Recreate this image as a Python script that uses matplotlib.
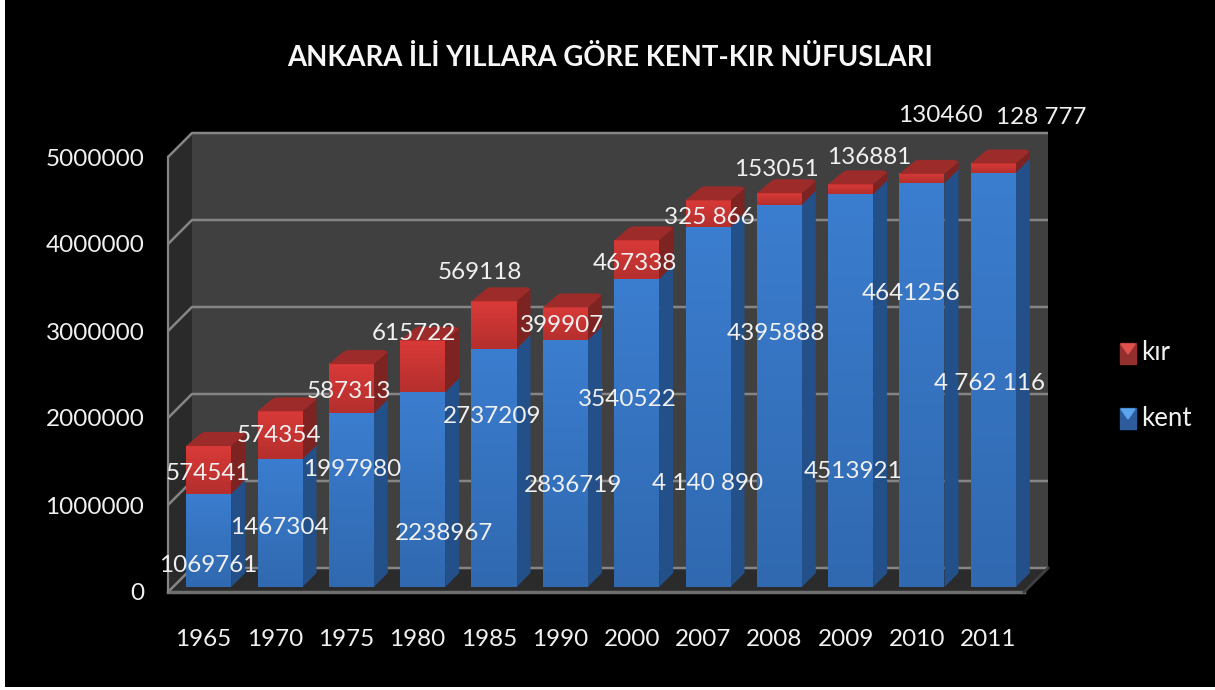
import numpy as np
import matplotlib
matplotlib.use("Agg")
import matplotlib.pyplot as plt
from matplotlib.patches import Polygon, Rectangle
from matplotlib.colors import LinearSegmentedColormap

years = ["1965", "1970", "1975", "1980", "1985", "1990", "2000", "2007", "2008", "2009", "2010", "2011"]
kent = [1069761, 1467304, 1997980, 2238967, 2737209, 2836719, 3540522, 4140890, 4395888, 4513921, 4641256, 4762116]
kir = [574541, 574354, 587313, 615722, 569118, 399907, 467338, 325866, 153051, 136881, 130460, 128777]
kent_labels = ["1069761", "1467304", "1997980", "2238967", "2737209", "2836719", "3540522", "4 140 890", "4395888", "4513921", "4641256", "4 762 116"]
kir_labels = ["574541", "574354", "587313", "615722", "569118", "399907", "467338", "325 866", "153051", "136881", "130460", "128 777"]
y_ticks = [0, 1000000, 2000000, 3000000, 4000000, 5000000]
title = "ANKARA İLİ YILLARA GÖRE KENT-KIR NÜFUSLARI"

# label centres in pixels (x, y from the top of the image)
kent_label_pos = [(208, 566), (279, 527), (352, 470), (444, 533), (492, 417), (573, 486), (627, 399), (708, 484), (776, 333), (853, 471), (911, 293), (989, 383)]
kir_label_pos = [(208, 473), (279, 436), (349, 392), (414, 334), (480, 273), (562, 326), (635, 263), (709, 217), (776, 170), (869, 157), (940, 116), (1041, 118)]

W, H = 1215, 690
plt.rcParams["font.family"] = ["Lato", "DejaVu Sans"]

fig = plt.figure(figsize=(W / 100, H / 100), dpi=100, facecolor="white")
bg = fig.add_axes([5 / W, 3 / H, 1 - 5 / W, 1 - 3 / H])
bg.set_axis_off()
bg.add_patch(Rectangle((0, 0), 1, 1, color="black", transform=bg.transAxes))

L, R, B, T = 168, 1024, 592, 157
ax = fig.add_axes([L / W, 1 - B / H, (R - L) / W, (B - T) / H])
ax.set_facecolor("none")
ax.set_xlim(0, 12)
ax.set_ylim(0, 5000000)
for s in ax.spines.values():
    s.set_visible(False)

ux = 12 / (R - L)      # data units per pixel
uy = 5000000 / (B - T)


def depth(x, y, d):
    return x + d * ux, y + d * uy


def poly(pts, color, z):
    ax.add_patch(Polygon(pts, closed=True, facecolor=color, edgecolor="none", zorder=z, clip_on=False))


# walls and floor
D = 24
p = lambda x, y, d=0: depth(x, y, d)
poly([p(0, 0), p(0, 5000000), p(0, 5000000, D), p(0, 0, D)], "#2a2a2a", 1)
poly([p(0, 0, D), p(0, 5000000, D), p(12, 5000000, D), p(12, 0, D)], "#404040", 1)
poly([p(0, 0), p(12, 0), p(12, 0, D), p(0, 0, D)], "#2b2b2b", 1)
grid = "#858585"
for v in y_ticks:
    xs = [p(0, v)[0], p(0, v, D)[0], p(12, v, D)[0]]
    ys = [p(0, v)[1], p(0, v, D)[1], p(12, v, D)[1]]
    ax.plot(xs, ys, color=grid, lw=1.8, zorder=2, clip_on=False, solid_capstyle="butt")
ax.plot([p(0, 0)[0], p(12, 0)[0]], [0, 0], color="#6e6e6e", lw=2.5, zorder=2, clip_on=False)
ax.plot([p(12, 0)[0], p(12, 0, D)[0]], [0, p(12, 0, D)[1]], color="#404040", lw=2, zorder=2, clip_on=False)
ax.plot([p(0, 0)[0], p(0, 5000000)[0]], [0, 5000000], color=grid, lw=1.6, zorder=2, clip_on=False)

# stacked bars
bw = 45 * ux
d0, d1 = 5, 19


def gradient(x0, x1, y0, y1, top, bottom, z):
    cm = LinearSegmentedColormap.from_list("g", [bottom, top])
    ax.imshow(np.linspace(0, 1, 64)[:, None], extent=(x0, x1, y0, y1), origin="lower",
              cmap=cm, aspect="auto", zorder=z, interpolation="bilinear", clip_on=False)


def segment(x, y0, y1, top, bottom, side, cap, z, with_cap):
    bevel = 2 if with_cap else 0
    fx0, fy0 = depth(x - bw / 2, y0, d0)
    fx1, fy1 = depth(x + bw / 2, y1, d0)
    fy1 -= bevel * uy
    off = d1 - d0
    poly([(fx1, fy0), (fx1, fy1), (fx1 + off * ux, fy1 + off * uy), (fx1 + off * ux, fy0 + off * uy)], side, z)
    gradient(fx0, fx1, fy0, fy1, top, bottom, z + 0.1)
    if with_cap:
        r = 4
        poly([(fx0, fy1), (fx1, fy1), (fx1 + off * ux, fy1 + (off - 2) * uy), (fx1 + off * ux - r * ux, fy1 + off * uy),
              (fx0 + off * ux + r * ux, fy1 + off * uy), (fx0 + off * ux, fy1 + (off - 2) * uy)], cap, z + 0.2)


for i in range(len(years)):
    x = i + 0.5
    z = 3 + (len(years) - i) * 0.01
    total = kent[i] + kir[i]
    segment(x, 0, kent[i], "#3b7dcf", "#3069b0", "#24508a", "#2a5c9c", z, False)
    segment(x, kent[i], total, "#d93a38", "#b42f2d", "#7d2422", "#9c2b29", z + 0.5, True)

ax.set_xlim(0, 12)
ax.set_ylim(0, 5000000)

ax.set_xticks([i + 0.5 for i in range(len(years))], years)
ax.set_yticks(y_ticks, [str(v) for v in y_ticks])
ax.tick_params(axis="both", length=0, colors="#f0f0f0", labelsize=17.5)
ax.tick_params(axis="x", pad=27)
ax.tick_params(axis="y", pad=17)

# data labels placed by hand, as in the source
to_fig = lambda px, py: (px / W, 1 - py / H)
for txt, (px, py) in zip(kent_labels + kir_labels, kent_label_pos + kir_label_pos):
    fig.text(*to_fig(px, py), txt, color="#f0f0f0", fontsize=17.5, ha="center", va="center", zorder=10)

fig.text(*to_fig(610, 66), title, color="#f7f7f7", fontsize=19.8, fontweight="bold", ha="center", va="baseline")

# legend
lax = fig.add_axes([0, 0, 1, 1])
lax.set_axis_off()
lax.set_xlim(0, W)
lax.set_ylim(H, 0)
for (ly, top, bot, name) in [(353, "#e0504c", "#93302e", "kır"), (418, "#5aa5ee", "#2c5c9c", "kent")]:
    lax.add_patch(Rectangle((1120, ly - 10), 16, 21, color=bot))
    lax.add_patch(Polygon([(1121, ly - 9), (1135, ly - 9), (1128, ly + 1)], color=top))
    lax.text(1141, ly, name, color="#f0f0f0", fontsize=18.5, ha="left", va="center")

fig.savefig("out.png", dpi=100, facecolor="white")
